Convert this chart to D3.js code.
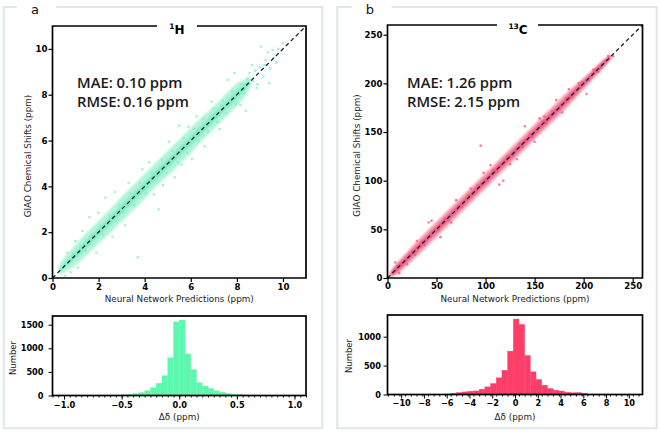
<!DOCTYPE html>
<html><head><meta charset="utf-8">
<script src="https://cdn.jsdelivr.net/npm/d3@7"></script>
<style>body{margin:0;background:#fff}svg{display:block}</style>
</head><body>
<svg id="c" width="661" height="433"></svg>
<script>
// ---------- DATA ----------
const scatterTicksA = [0, 2, 4, 6, 8, 10];
const scatterTicksB = [0, 50, 100, 150, 200, 250];
const histTicksA = [-1.0, -0.5, 0.0, 0.5, 1.0];
const histTicksB = [-10, -8, -6, -4, -2, 0, 2, 4, 6, 8, 10];
const histYTicksA = [0, 500, 1000, 1500];
const histYTicksB = [0, 500, 1000];

const histStartA = -1.1, histWidthA = 0.05;
const histCountsA = [0,0,1,0,1,1,2,2,3,4,6,10,20,25,45,65,100,165,260,420,800,1560,
  1600,880,550,270,200,150,100,70,45,25,22,10,6,4,3,2,1,1,1,0,0,0];
const histStartB = -11.15, histWidthB = 0.5;
const histCountsB = [0,0,1,1,1,1,2,2,3,4,8,20,35,45,57,62,92,132,190,288,420,750,
  1305,1213,675,392,260,161,104,75,60,40,30,35,20,6,3,2,2,1,1,1,0,0];

const statsA = ["MAE: 0.10 ppm", "RMSE:\u20090.16 ppm"];
const statsB = ["MAE: 1.26 ppm", "RMSE: 2.15 ppm"];

// band envelopes of the dense point cloud
const bandA_x       = [0.3,0.6,1.0,1.5,2.0,2.5,3.0,3.5,4.0,4.5,5.0,5.5,6.0,6.5,7.0,7.5,8.0,8.3,8.6];
const bandA_outerLo = [0.12,0.28,0.55,1.0,1.5,1.95,2.45,2.95,3.45,4.0,4.45,4.95,5.45,6.0,6.5,7.0,7.5,7.85,8.35];
const bandA_outerHi = [0.6,1.0,1.45,2.0,2.5,3.0,3.55,4.05,4.55,5.05,5.55,6.05,6.55,7.05,7.5,8.0,8.5,8.65,8.8];
const bandA_innerLo = [0.25,0.5,0.85,1.33,1.82,2.3,2.8,3.3,3.8,4.3,4.8,5.3,5.8,6.3,6.82,7.33,7.82,8.15,8.5];
const bandA_innerHi = [0.4,0.72,1.15,1.68,2.18,2.7,3.2,3.7,4.2,4.7,5.2,5.7,6.2,6.7,7.2,7.68,8.2,8.45,8.65];

const bandB_x       = [3,10,20,30,40,50,60,70,80,90,100,110,120,130,140,150,160,170,180,190,200,210,220,228];
const bandB_outerLo = [1,4,13,22,32,42,52,62,72,82,92,102,112,122,132,142,152,162,172,183,194,205,216,225];
const bandB_outerHi = [7,16,27,38,48,58,68,78,88,98,108,118,128,138,148,158,168,178,188,197,206,215,224,230];
const bandB_innerLo = [1.5,6.5,16.5,26.5,36.5,46.5,56.5,66.5,76.5,86.5,96.5,106.5,116.5,126.5,136.5,146.5,156.5,166.5,176.5,186.5,197,207,217,226];
const bandB_innerHi = [5,13.5,23.5,33.5,43.5,53.5,63.5,73.5,83.5,93.5,103.5,113.5,123.5,133.5,143.5,153.5,163.5,173.5,183.5,193.5,203,213,223,229];

const pointsA = [[8.55,8.95],[8.7,8.6],[8.8,9.05],[8.9,8.45],[9.0,9.2],[9.05,10.1],[9.15,8.8],[9.25,9.5],
 [9.35,9.85],[9.45,9.15],[9.55,9.95],[9.6,9.6],[9.7,9.4],[9.8,10.0],[10.0,10.25],[9.2,9.3],[8.65,9.3],
 [8.4,7.3],[8.85,8.3],[9.4,8.5],
 [3.7,0.9],[4.6,3.0],[2.3,3.5],[1.6,2.65],[0.8,0.25],[0.55,0.1],[1.1,0.45],[5.5,6.65],[6.25,7.05],
 [7.6,8.65],[2.7,3.75],[3.3,4.15],[4.2,5.05],[5.05,5.95],[5.9,6.6],[6.05,5.2],[6.6,5.75],[5.3,4.4],
 [4.8,4.05],[3.15,2.3],[2.6,1.8],[1.9,1.1],[1.3,2.05],[7.25,6.5],[6.9,7.7],[8.15,7.55],[4.4,3.65],
 [5.6,4.95],[7.9,8.95],[3.9,4.75],[2.0,2.85],[1.0,1.6],[0.65,1.1],
 [0.9,1.05],[1.2,1.35],[1.45,1.2],[1.7,1.9],[2.1,2.3],[2.2,1.9],[2.45,2.75],[2.75,2.5],[2.9,3.2],
 [3.1,2.85],[3.4,3.7],[3.55,3.2],[3.8,4.15],[4.05,3.7],[4.3,4.6],[4.55,4.25],[4.75,5.15],[4.95,4.6],
 [5.2,5.55],[5.45,5.05],[5.7,6.1],[5.85,5.45],[6.15,6.5],[6.35,6.0],[6.55,6.95],[6.75,6.4],[7.0,7.4],
 [7.15,6.8],[7.4,7.75],[7.55,7.2],[7.8,8.15],[7.95,7.6],[8.2,8.45],[8.3,8.05],[8.45,8.7]];

const pointsB = [[95,136],[203,189],[54,42],[114,96],[118,100],[160,166],[45,59],[42,57],[98,108],
 [150,140],[140,156],[172,183],[125,117],[70,80],[30,38],[20,14],[85,92],[185,194],[210,214],[225,228],
 [230,228],[215,212],[195,200],[12,5],[8,16],[65,57],[105,116],[132,122],[178,170],[155,164],
 [10,12],[15,14],[25,27],[28,24],[35,37],[38,34],[48,50],[52,49],[58,61],[62,59],[72,74],[76,73],
 [82,85],[88,86],[92,95],[102,100],[108,111],[112,109],[122,125],[128,126],[135,138],[138,135],
 [145,148],[148,145],[158,161],[162,159],[168,171],[175,173],[182,185],[188,186],[198,201],[205,203],
 [212,214],[218,216]];

// ---------- LAYOUT ----------
const panels = [
 { letter:"a", letterX:35, frame:{l:3.7,t:7,r:322.3,b:428.3,g0:17,g1:56},
   sc:{x0:52.5,x1:306,y0:278,y1:26,dom:[0,11],ticks:scatterTicksA,tg0:157,tg1:197,tx:177,
       band:{x:bandA_x,oLo:bandA_outerLo,oHi:bandA_outerHi,iLo:bandA_innerLo,iHi:bandA_innerHi},
       pts:pointsA, outer:"#b2f4d8", inner:"#78ecbf", pt:"#86eec6", stats:statsA, sx:77,
       ylx:27.8, xpad:1.5, ypad:1, fmt:d3.format("d")},
   title:["1","H"],
   hi:{x0:52.5,x1:306,y0:395.5,y1:316,xdom:[-1.1,1.1],ymax:1684,start:histStartA,w:histWidthA,
       counts:histCountsA,xt:histTicksA,yt:histYTicksA,col:"#5ef7b0",fmt:d3.format(".1f"),
       xpad:3,ypad:5,nlx:12.5,nly:358}
 },
 { letter:"b", letterX:370, frame:{l:337.3,t:7,r:656.7,b:428.3,g0:351.7,g1:391.7},
   sc:{x0:387.5,x1:642.5,y0:278,y1:25,dom:[0,260],ticks:scatterTicksB,tg0:497,tg1:538,tx:518,
       band:{x:bandB_x,oLo:bandB_outerLo,oHi:bandB_outerHi,iLo:bandB_innerLo,iHi:bandB_innerHi},
       pts:pointsB, outer:"#f6a0b6", inner:"#ef4a72", pt:"#f0577d", stats:statsB, sx:407,
       ylx:357, xpad:0.5, ypad:1, fmt:d3.format("d")},
   title:["13","C"],
   hi:{x0:387.5,x1:642.5,y0:394.5,y1:315,xdom:[-11.2,11.2],ymax:1375,start:histStartB,w:histWidthB,
       counts:histCountsB,xt:histTicksB,yt:histYTicksB,col:"#fe3e68",fmt:d3.format("d"),
       xpad:1.5,ypad:2.5,nlx:348.8,nly:356}
 }
];

const svg = d3.select("#c");
const defs = svg.append("defs");
defs.append("filter").attr("id","soft").attr("x","-10%").attr("y","-10%").attr("width","120%").attr("height","120%")
  .append("feGaussianBlur").attr("stdDeviation",0.9);

const TICKFONT = "DejaVu Sans, sans-serif";

panels.forEach(p => {
  // outer light frame
  const f = p.frame;
  svg.append("path")
    .attr("d", `M${f.g1},${f.t}H${f.r}V${f.b}H${f.l}V${f.t}H${f.g0}`)
    .attr("fill","none").attr("stroke","#dfe7e7").attr("stroke-width",2);
  svg.append("text").attr("x",p.letterX).attr("y",13.5).attr("text-anchor","middle")
    .attr("font-family",TICKFONT).attr("font-size",13).attr("fill","#111").text(p.letter);

  // ---- scatter ----
  const s = p.sc;
  const x = d3.scaleLinear().domain(s.dom).range([s.x0,s.x1]);
  const y = d3.scaleLinear().domain(s.dom).range([s.y0,s.y1]);
  const g = svg.append("g");
  const bd = s.band;
  const idx = d3.range(bd.x.length);
  const areaO = d3.area().x(i=>x(bd.x[i])).y0(i=>y(bd.oLo[i])).y1(i=>y(bd.oHi[i])).curve(d3.curveCatmullRom);
  const areaI = d3.area().x(i=>x(bd.x[i])).y0(i=>y(bd.iLo[i])).y1(i=>y(bd.iHi[i])).curve(d3.curveCatmullRom);
  g.append("path").attr("d",areaO(idx)).attr("fill",s.outer).attr("filter","url(#soft)");
  g.append("path").attr("d",areaI(idx)).attr("fill",s.inner).attr("opacity",0.85).attr("filter","url(#soft)");
  g.selectAll("circle").data(s.pts).join("circle")
    .attr("cx",d=>x(d[0])).attr("cy",d=>y(d[1])).attr("r",1.3)
    .attr("fill",s.pt).attr("opacity",0.75);
  // diagonal
  g.append("line").attr("x1",x(s.dom[0])).attr("y1",y(s.dom[0])).attr("x2",x(s.dom[1])).attr("y2",y(s.dom[1]))
    .attr("stroke","#14233a").attr("stroke-width",1.3).attr("stroke-dasharray","4,3");
  // axes
  const ax = svg.append("g").attr("transform",`translate(0,${s.y0})`)
    .call(d3.axisBottom(x).tickValues(s.ticks).tickFormat(s.fmt).tickSize(4).tickPadding(s.xpad).tickSizeOuter(0));
  const ay = svg.append("g").attr("transform",`translate(${s.x0},0)`)
    .call(d3.axisLeft(y).tickValues(s.ticks).tickFormat(s.fmt).tickSize(4).tickPadding(s.ypad).tickSizeOuter(0));
  [ax,ay].forEach(a=>{
    a.select(".domain").remove();
    a.selectAll("line").attr("stroke","#000").attr("stroke-width",1.2);
    a.selectAll("text").attr("font-family",TICKFONT).attr("font-weight","bold").attr("font-size",8.6).attr("fill","#000");
  });
  // frame with title gap
  svg.append("path")
    .attr("d",`M${s.tg1},${s.y1}H${s.x1}V${s.y0}H${s.x0}V${s.y1}H${s.tg0}`)
    .attr("fill","none").attr("stroke","#000").attr("stroke-width",1.7);
  const tt = svg.append("text").attr("x",s.tx).attr("y",33.5).attr("text-anchor","middle")
    .attr("font-family",TICKFONT).attr("font-weight","bold").attr("font-size",12).attr("fill","#000");
  tt.append("tspan").attr("font-size",7.5).attr("dy",-4.5).text(p.title[0]);
  tt.append("tspan").attr("dy",4.5).text(p.title[1]);
  // stats
  s.stats.forEach((t,i)=>{
    svg.append("text").attr("x",s.sx).attr("y",88+i*18.5)
      .attr("font-family","Open Sans, sans-serif").attr("font-weight",600).attr("font-size",14.8)
      .attr("fill","#1a1a1a").text(t);
  });
  // axis labels
  svg.append("text").attr("x",(s.x0+s.x1)/2).attr("y",301.5).attr("text-anchor","middle")
    .attr("font-family",TICKFONT).attr("font-size",8.8).attr("fill","#222").text("Neural Network Predictions (ppm)");
  svg.append("text").attr("transform",`translate(${s.ylx+3},${(s.y0+s.y1)/2+4}) rotate(-90)`).attr("text-anchor","middle")
    .attr("font-family",TICKFONT).attr("font-size",8.8).attr("fill","#222").text("GIAO Chemical Shifts (ppm)");

  // ---- histogram ----
  const h = p.hi;
  const hx = d3.scaleLinear().domain(h.xdom).range([h.x0,h.x1]);
  const hy = d3.scaleLinear().domain([0,h.ymax]).range([h.y0,h.y1]);
  const bins = h.counts.map((c,i)=>({a:h.start+i*h.w, b:h.start+(i+1)*h.w, c}));
  const hg = svg.append("g");
  hg.selectAll("rect").data(bins.filter(d=>d.c>0)).join("rect")
    .attr("x",d=>hx(d.a)).attr("width",d=>hx(d.b)-hx(d.a))
    .attr("y",d=>hy(d.c)).attr("height",d=>h.y0-hy(d.c))
    .attr("fill",h.col).attr("stroke",h.col).attr("stroke-width",0.3);
  const edges = d3.range(h.counts.length+1).map(i=>h.start+i*h.w).filter(v=>v>=h.xdom[0]&&v<=h.xdom[1]);
  const mx = svg.append("g").attr("transform",`translate(0,${h.y0})`)
    .call(d3.axisBottom(hx).tickValues(edges).tickFormat("").tickSize(2).tickSizeOuter(0));
  const hax = svg.append("g").attr("transform",`translate(0,${h.y0})`)
    .call(d3.axisBottom(hx).tickValues(h.xt).tickFormat(h.fmt).tickSize(4).tickPadding(h.xpad).tickSizeOuter(0));
  const hay = svg.append("g").attr("transform",`translate(${h.x0},0)`)
    .call(d3.axisLeft(hy).tickValues(h.yt).tickFormat(d3.format("d")).tickSize(4).tickPadding(h.ypad).tickSizeOuter(0));
  [mx,hax,hay].forEach(a=>{
    a.select(".domain").remove();
    a.selectAll("line").attr("stroke","#000").attr("stroke-width",1);
    a.selectAll("text").attr("font-family",TICKFONT).attr("font-weight","bold").attr("font-size",8.2).attr("fill","#000");
  });
  svg.append("rect").attr("x",h.x0).attr("y",h.y1).attr("width",h.x1-h.x0).attr("height",h.y0-h.y1)
    .attr("fill","none").attr("stroke","#000").attr("stroke-width",1.7);
  svg.append("text").attr("x",(h.x0+h.x1)/2).attr("y",419.5).attr("text-anchor","middle")
    .attr("font-family",TICKFONT).attr("font-size",8.8).attr("fill","#222").text("Δδ (ppm)");
  svg.append("text").attr("transform",`translate(${h.nlx+3},${h.nly}) rotate(-90)`).attr("text-anchor","middle")
    .attr("font-family",TICKFONT).attr("font-size",8.5).attr("fill","#222").text("Number");
});
</script>
</body></html>
